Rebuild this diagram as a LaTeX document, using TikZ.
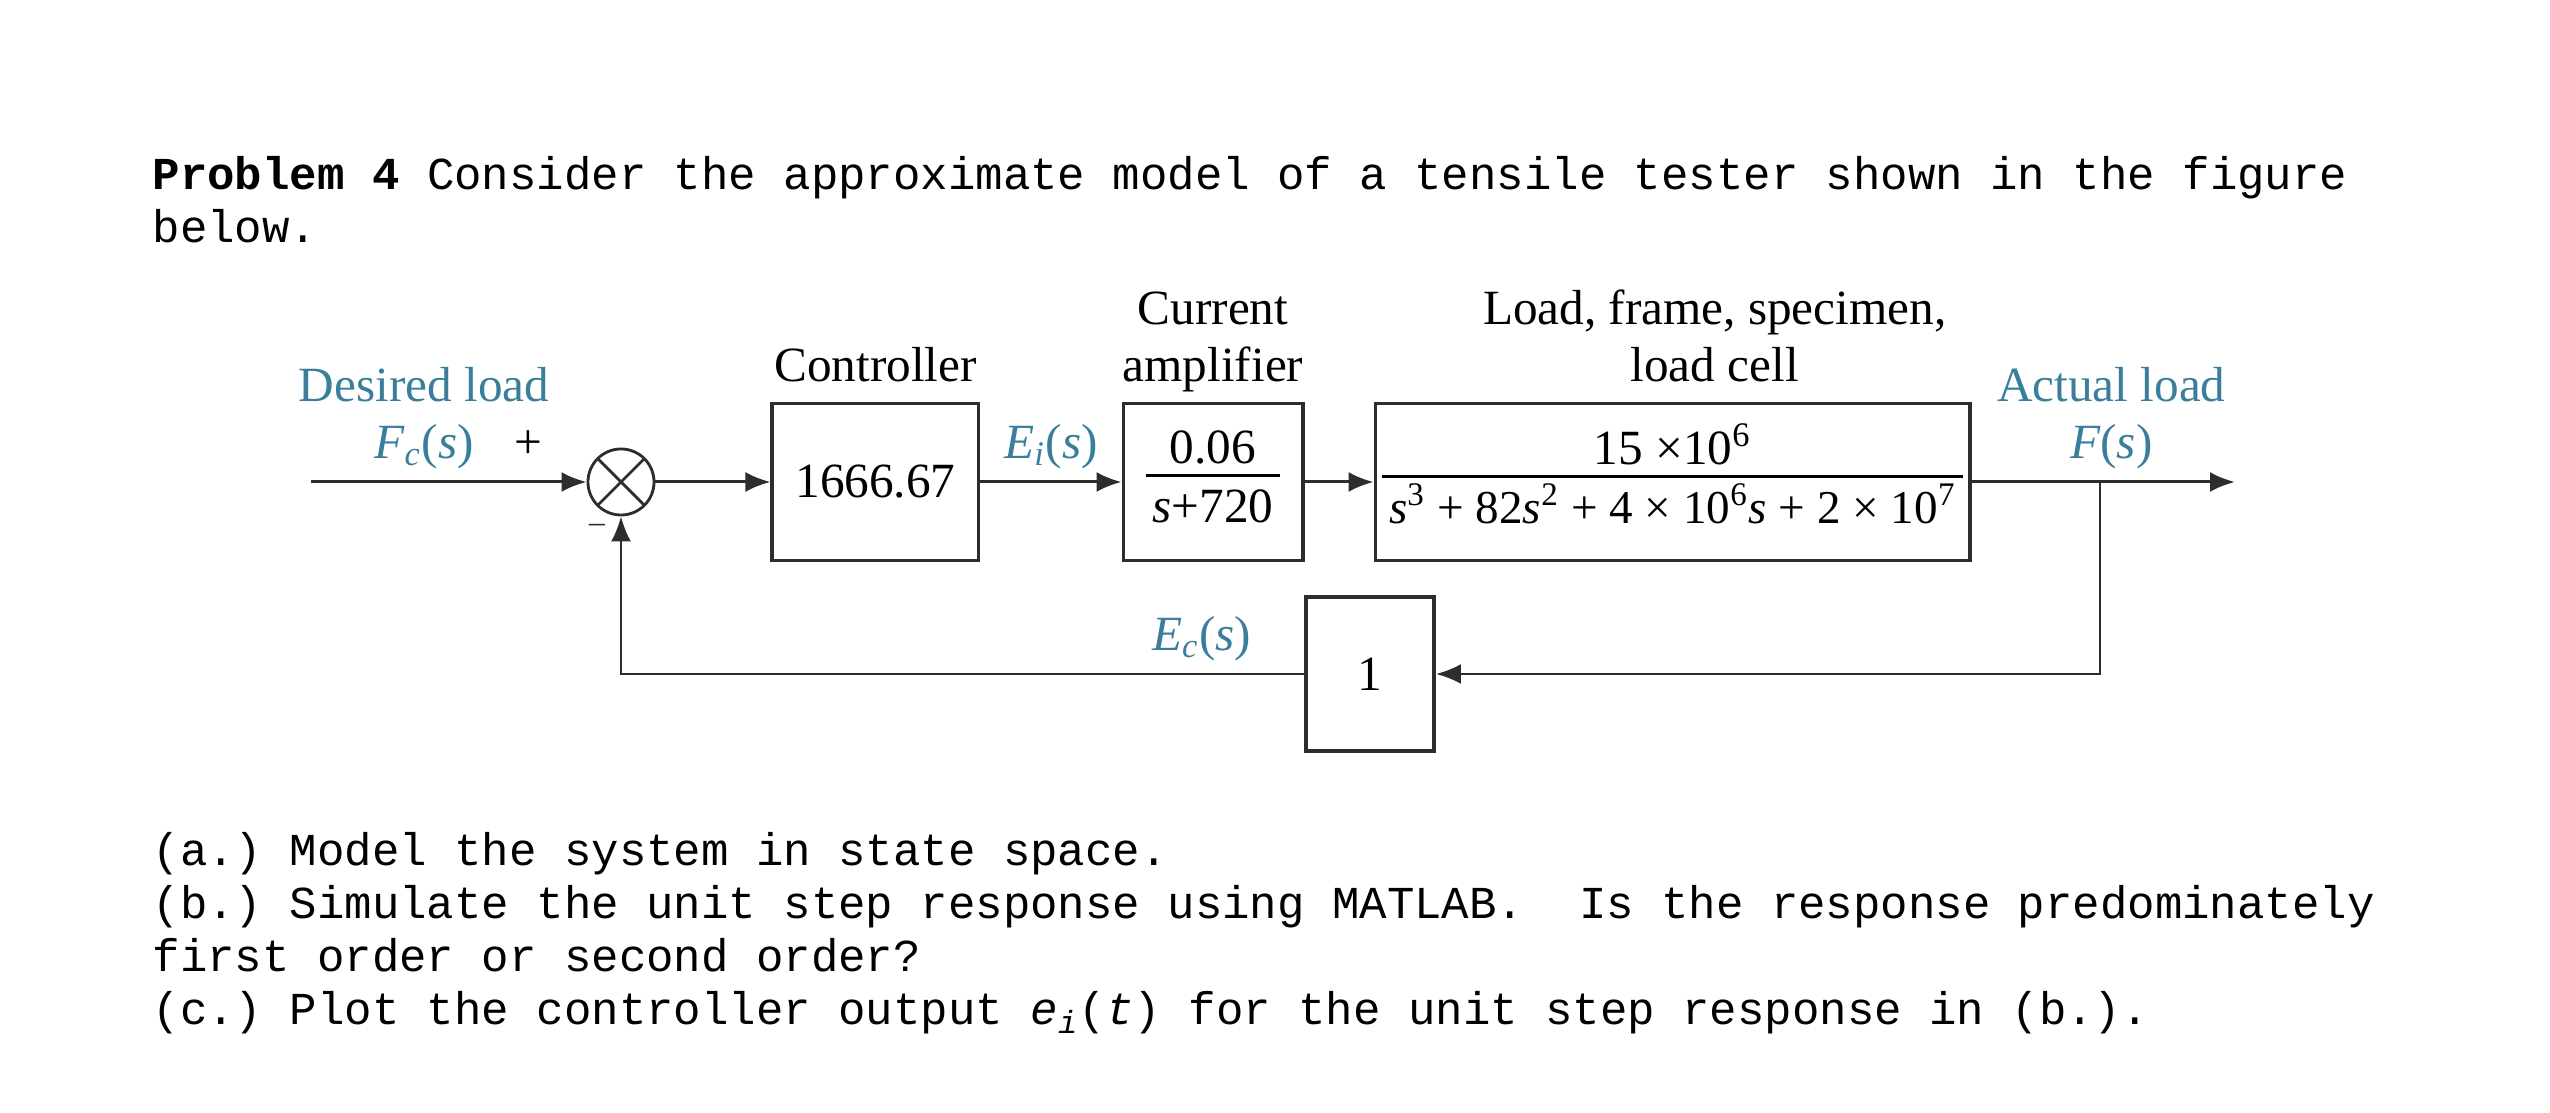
\documentclass[tikz,border=0pt]{standalone}
\usepackage{fontspec}
\setmainfont{Liberation Serif}
\setmonofont{Liberation Mono}
\usepackage{xcolor}
\usepackage{tikz}
\usetikzlibrary{positioning, arrows.meta}
\definecolor{sigblue}{RGB}{58,126,155}
\definecolor{linegray}{RGB}{45,45,45}
\newcommand\blockfont{\fontsize{14}{16.2}\selectfont}
\newcommand\probfont{\ttfamily\fontsize{13}{14.7}\selectfont\frenchspacing}
\newcommand\blockfrac[2]{\begin{tabular}{@{\hspace{2pt}}c@{\hspace{2pt}}}#1\\[-2pt]\hline\rule{0pt}{13pt}#2\end{tabular}}
\setlength{\arrayrulewidth}{0.9pt}
\tikzstyle{block} = [rectangle, draw=linegray, line width=1.1pt, minimum height=1.57cm, text centered, inner sep=0pt]
\tikzstyle{junction} = [circle, draw=linegray, line width=0.8pt, minimum size=0.66cm, inner sep=0pt,
  path picture={\draw[linegray, line width=0.8pt] (path picture bounding box.north west) -- (path picture bounding box.south east)
  (path picture bounding box.north east) -- (path picture bounding box.south west);}]
\tikzstyle{arrow} = [line width=0.85pt, draw=linegray, -{Latex[length=2.5mm,width=2mm]}]
\tikzstyle{sig} = [text=sigblue, inner sep=0pt]
\tikzstyle{prob} = [font=\probfont, inner sep=0pt, anchor=base west]
\tikzstyle{every node}=[font=\blockfont]

\begin{document}
\begin{tikzpicture}[x=0.01cm, y=-0.01cm]
		\useasboundingbox (0,0) rectangle (2550,1113);
		% problem text
		\node (head1) [prob] at (152,190) {\textbf{Problem 4} Consider the approximate model of a tensile tester shown in the figure};
		\node (head2) [prob] at (152,243) {below.};
		% blocks
		\node (sum) [junction] at (621,482) {};
		\node (ctrl) [block, minimum width=2.06cm, right=11.5mm of sum] {1666.67};
		\node (amp) [block, minimum width=1.79cm, right=14.1mm of ctrl] {\blockfrac{0.06}{\textit{s}+720}};
		\node (plant) [block, minimum width=5.94cm, right=6.9mm of amp] {\blockfrac{15 ×10\textsuperscript{6}}{\fontsize{13.4}{16.2}\selectfont\textit{s}\textsuperscript{3} + 82\textit{s}\textsuperscript{2} + 4 × 10\textsuperscript{6}\textit{s} + 2 × 10\textsuperscript{7}}};
		\node (fb) [block, minimum width=1.28cm, minimum height=1.54cm] at (1370,674) {1};
		\coordinate (input) at (311,482);
		\coordinate (output) at (2235,482);
		\coordinate (tap) at (2100,482);
		% block titles
		\node (ctrllab) [above=0.2mm of ctrl, inner sep=0pt, align=center] {Controller\strut};
		\node (amplab) [above=0.2mm of amp, inner sep=0pt, align=center] {Current\\amplifier\strut};
		\node (plantlab) [above=0.2mm of plant, xshift=4.2mm, inner sep=0pt, align=center] {Load, frame, specimen,\\load cell\strut};
		\node (plus) at (528,445) {+};
		\node (minus) [text=linegray] at (597,528) {\fontsize{9}{9}\selectfont –};
		% connectors
		\draw [arrow](input) -- node[sig, above=1.2mm, pos=0.41, align=center] {Desired load\\\textit{F}\textsubscript{\textit{c}}(\textit{s})}(sum);
		\draw [arrow](sum) -- (ctrl);
		\draw [arrow](ctrl) -- node[sig, above=1.2mm] {\textit{E}\textsubscript{\textit{i}}(\textit{s})}(amp);
		\draw [arrow](amp) -- (plant);
		\draw [arrow](plant) -- node[sig, above=1.2mm, pos=0.53, align=center] {Actual load\\\textit{F}(\textit{s})}(output);
		\draw [arrow, line width=0.7pt](tap) |- (fb);
		\draw [arrow, line width=0.7pt](fb) -| node[sig, above=1.2mm, pos=0.075] {\textit{E}\textsubscript{\textit{c}}(\textit{s})}(sum);
		% questions
		\node (parta) [prob] at (152,866) {(a.) Model the system in state space.};
		\node (partb) [prob] at (152,919) {(b.) Simulate the unit step response using MATLAB.~ Is the response predominately};
		\node (partb2) [prob] at (152,972) {first order or second order?};
		\node (partc) [prob] at (152,1025) {(c.) Plot the controller output \textit{e}\textsubscript{\textit{i}}(\textit{t}) for the unit step response in (b.).};
	\end{tikzpicture}
\end{document}
